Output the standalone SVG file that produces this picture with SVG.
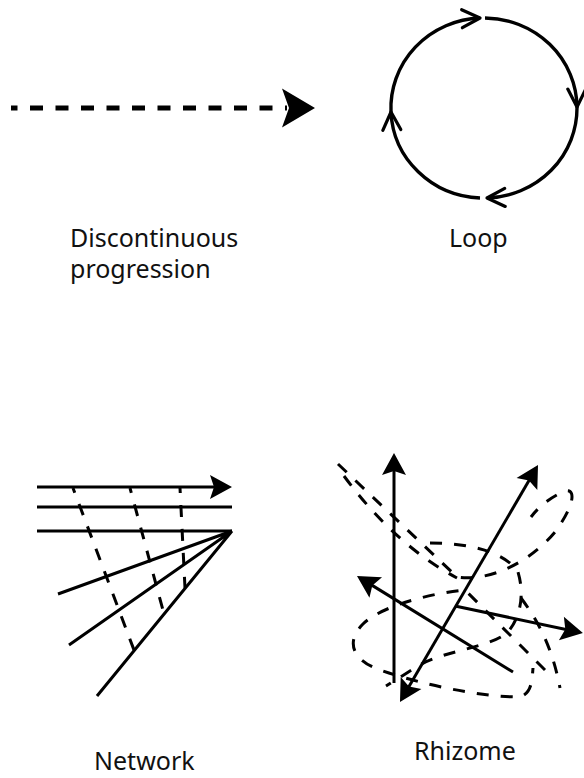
<svg xmlns="http://www.w3.org/2000/svg" width="584" height="778" viewBox="0 0 584 778">
  <style>
    .label { font-family: "Noto Sans", "Open Sans", sans-serif; font-size: 25px; fill: #111; }
    .solid { fill: none; stroke: #000; stroke-width: 3; }
    .dash { fill: none; stroke: #000; stroke-width: 3; stroke-dasharray: 12 12; }
    .ring { fill: none; stroke: #000; stroke-width: 3.4; marker-end: url(#chev); }
  </style>
  <defs>
    <!-- large filled notched arrowhead -->
    <marker id="headL" markerUnits="userSpaceOnUse" orient="auto" overflow="visible" refX="0" refY="0" markerWidth="1" markerHeight="1">
      <path d="M28,0 L-5,-19.5 L2,0 L-5,19.5 Z" fill="#000"/>
    </marker>
    <!-- small filled notched arrowhead -->
    <marker id="headS" markerUnits="userSpaceOnUse" orient="auto-start-reverse" overflow="visible" refX="0" refY="0" markerWidth="1" markerHeight="1">
      <path d="M4,0 L-18,-12 L-14,0 L-18,12 Z" fill="#000"/>
    </marker>
    <!-- open chevron arrowhead -->
    <marker id="chev" markerUnits="userSpaceOnUse" orient="auto" overflow="visible" refX="0" refY="0" markerWidth="1" markerHeight="1">
      <path d="M-18,-9 L0,0 L-18,9" fill="none" stroke="#000" stroke-width="3.2" stroke-linecap="round" stroke-linejoin="round"/>
    </marker>
  </defs>

  <!-- Discontinuous progression -->
  <g id="progression">
    <path d="M11,108 L287,108" fill="none" stroke="#000" stroke-width="5" stroke-dasharray="13 12.5" stroke-dashoffset="6.5" marker-end="url(#headL)"/>
    <text class="label" x="70" y="247">Discontinuous</text>
    <text class="label" x="70" y="278">progression</text>
  </g>

  <!-- Loop -->
  <g id="loop">
    <path class="ring" d="M485,18 A93,90 0 0 1 577,107"/>
    <path class="ring" d="M577,107 A93,90 0 0 1 487,198"/>
    <path class="ring" d="M480,198 A93,90 0 0 1 391,112"/>
    <path class="ring" d="M391,112 A93,90 0 0 1 480,18"/>
    <text class="label" x="449" y="247">Loop</text>
  </g>

  <!-- Network -->
  <g id="network">
    <path class="solid" d="M37,487 L228,487" marker-end="url(#headS)"/>
    <path class="solid" d="M37,507 L232,507"/>
    <path class="solid" d="M37,531 L232,531"/>
    <path class="solid" d="M232,531 L58,594 M232,531 L69,645 M232,531 L97,696"/>
    <path class="dash" stroke-dashoffset="7" d="M73,488 L134,650"/>
    <path class="dash" stroke-dashoffset="7" d="M130,488 L164,614"/>
    <path class="dash" stroke-dashoffset="7" d="M180,488 L185,588"/>
    <text class="label" x="94" y="770">Network</text>
  </g>

  <!-- Rhizome -->
  <g id="rhizome">
    <path class="dash" d="M338,464 L457,577 C490,582 530,562 555,532 C575,505 576,488 565,491 C553,496 540,505 531,517"/>
    <path class="dash" d="M344,476 Q395,545 457,578"/>
    <path class="dash" d="M430,543 C470,543 505,552 518,572 C524,592 522,615 508,632 C490,648 445,650 418,666 L386,686"/>
    <path class="dash" d="M545,670 L465,590 C440,592 382,604 362,625 C346,642 352,660 380,670 C420,684 480,697 520,697 C532,693 532,680 533,668"/>
    <path class="dash" d="M521,598 C536,618 552,645 560,688"/>
    <path class="solid" d="M394,683 L394,457" marker-end="url(#headS)"/>
    <path class="solid" d="M402,698.5 L536,468.5" marker-start="url(#headS)" marker-end="url(#headS)"/>
    <path class="solid" d="M513,672 L360.4,578.1" marker-end="url(#headS)"/>
    <path class="solid" d="M455,606 L579,632.2" marker-end="url(#headS)"/>
    <text class="label" x="414" y="760">Rhizome</text>
  </g>
</svg>
